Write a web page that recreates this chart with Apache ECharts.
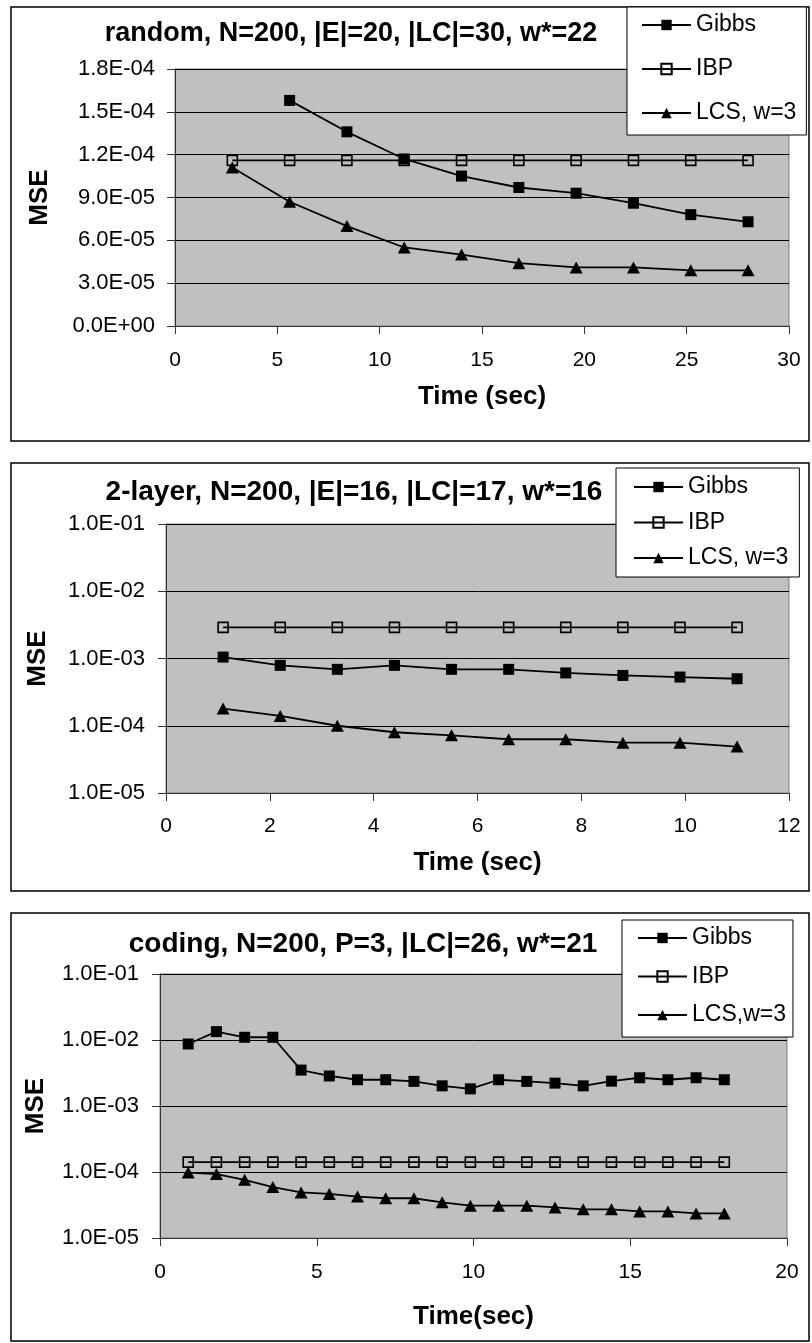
<!DOCTYPE html>
<html>
<head>
<meta charset="utf-8">
<script src="https://cdn.jsdelivr.net/npm/echarts@6/dist/echarts.min.js"></script>
<style>
html,body{margin:0;padding:0;background:#fff;}
#c{width:812px;height:1343px;}
</style>
</head>
<body>
<div id="c"></div>
<script>
// ---- Data ----
const c1Title = 'random, N=200, |E|=20, |LC|=30, w*=22';
const c1Time  = [2.8, 5.6, 8.4, 11.2, 14.0, 16.8, 19.6, 22.4, 25.2, 28.0];
const c1Gibbs = [null, 1.58e-4, 1.36e-4, 1.17e-4, 1.05e-4, 9.7e-5, 9.3e-5, 8.6e-5, 7.8e-5, 7.3e-5];
const c1IBP   = [1.16e-4, 1.16e-4, 1.16e-4, 1.16e-4, 1.16e-4, 1.16e-4, 1.16e-4, 1.16e-4, 1.16e-4, 1.16e-4];
const c1LCS   = [1.11e-4, 8.7e-5, 7.0e-5, 5.5e-5, 5.0e-5, 4.4e-5, 4.1e-5, 4.1e-5, 3.9e-5, 3.9e-5];

const c2Title = '2-layer, N=200, |E|=16, |LC|=17, w*=16';
const c2Time  = [1.1, 2.2, 3.3, 4.4, 5.5, 6.6, 7.7, 8.8, 9.9, 11.0];
const c2Gibbs = [1.05e-3, 7.9e-4, 6.9e-4, 7.9e-4, 6.9e-4, 6.9e-4, 6.1e-4, 5.6e-4, 5.3e-4, 5.0e-4];
const c2IBP   = [2.9e-3, 2.9e-3, 2.9e-3, 2.9e-3, 2.9e-3, 2.9e-3, 2.9e-3, 2.9e-3, 2.9e-3, 2.9e-3];
const c2LCS   = [1.8e-4, 1.4e-4, 1.0e-4, 8.0e-5, 7.2e-5, 6.3e-5, 6.3e-5, 5.6e-5, 5.6e-5, 4.9e-5];

const c3Title = 'coding, N=200, P=3, |LC|=26, w*=21';
const c3Time  = [0.9, 1.8, 2.7, 3.6, 4.5, 5.4, 6.3, 7.2, 8.1, 9.0, 9.9, 10.8, 11.7, 12.6, 13.5, 14.4, 15.3, 16.2, 17.1, 18.0];
const c3Gibbs = [8.7e-3, 1.34e-2, 1.1e-2, 1.1e-2, 3.5e-3, 2.85e-3, 2.5e-3, 2.5e-3, 2.36e-3, 2.02e-3, 1.82e-3, 2.5e-3, 2.36e-3, 2.22e-3, 2.02e-3, 2.38e-3, 2.68e-3, 2.5e-3, 2.68e-3, 2.5e-3];
const c3IBP   = [1.41e-4, 1.41e-4, 1.41e-4, 1.41e-4, 1.41e-4, 1.41e-4, 1.41e-4, 1.41e-4, 1.41e-4, 1.41e-4, 1.41e-4, 1.41e-4, 1.41e-4, 1.41e-4, 1.41e-4, 1.41e-4, 1.41e-4, 1.41e-4, 1.41e-4, 1.41e-4];
const c3LCS   = [9.8e-5, 9.3e-5, 7.6e-5, 5.9e-5, 4.9e-5, 4.66e-5, 4.25e-5, 4.0e-5, 4.0e-5, 3.47e-5, 3.09e-5, 3.09e-5, 3.09e-5, 2.91e-5, 2.72e-5, 2.72e-5, 2.53e-5, 2.53e-5, 2.36e-5, 2.36e-5];

const seriesNames12 = ['Gibbs', 'IBP', 'LCS, w=3'];
const seriesNames3  = ['Gibbs', 'IBP', 'LCS,w=3'];
const xAxisNames = ['Time (sec)', 'Time (sec)', 'Time(sec)'];
const yAxisName = 'MSE';
const xTicks1 = {min: 0, max: 30, interval: 5};
const xTicks2 = {min: 0, max: 12, interval: 2};
const xTicks3 = {min: 0, max: 20, interval: 5};
const yTicks1 = {min: 0, max: 1.8e-4, interval: 3e-5};
const yLogRange = {min: 1e-5, max: 1e-1};

// ---- Styling / layout ----
const FONT = '"Liberation Sans", Arial, sans-serif';
function expFmt(v) {
  const s = Number(v).toExponential(1);
  const parts = s.split('e');
  const sign = parts[1][0];
  let d = parts[1].slice(1);
  if (d.length < 2) d = '0' + d;
  return parts[0] + 'E' + sign + d;
}
function zip(xs, ys) {
  const out = [];
  for (let i = 0; i < xs.length; i++) if (ys[i] !== null && ys[i] !== undefined) out.push([xs[i], ys[i]]);
  return out;
}
const styles = [
  {symbol: 'rect', symbolSize: 11, itemStyle: {color: '#000'}},
  {symbol: 'rect', symbolSize: 10, itemStyle: {color: 'rgba(0,0,0,0)', borderColor: '#000', borderWidth: 1.6}},
  {symbol: 'triangle', symbolSize: [13, 12], itemStyle: {color: '#000'}}
];
function mkSeries(gi, names, xs, ysList) {
  return ysList.map((ys, k) => ({
    type: 'line', name: names[k], xAxisIndex: gi, yAxisIndex: gi,
    data: zip(xs, ys), symbol: styles[k].symbol, symbolSize: styles[k].symbolSize,
    itemStyle: styles[k].itemStyle, lineStyle: {color: '#000', width: 1.8},
    showAllSymbol: true, animation: false, z: 3 + (k === 1 ? 0 : 1)
  }));
}

const grids = [
  {left: 175, top: 69, width: 614, height: 257},
  {left: 166, top: 524, width: 623, height: 269},
  {left: 160, top: 974, width: 627, height: 264}
].map(g => Object.assign(g, {show: true, backgroundColor: '#c0c0c0', borderColor: '#808080', borderWidth: 1}));

function mkX(gi, t, name, nameGap, labelMargin) {
  return {
    type: 'value', gridIndex: gi, min: t.min, max: t.max, interval: t.interval,
    name: name, nameLocation: 'middle', nameGap: nameGap,
    nameTextStyle: {fontFamily: FONT, fontSize: 26, fontWeight: 'bold', color: '#000'},
    axisLine: {show: true, onZero: false, lineStyle: {color: '#333', width: 1}},
    axisTick: {show: true, length: 8, lineStyle: {color: '#333'}},
    axisLabel: {fontFamily: FONT, fontSize: 21, color: '#000', margin: labelMargin},
    splitLine: {show: false}
  };
}
function mkY(gi, isLog, nameGap, labelMargin) {
  const base = {
    gridIndex: gi,
    name: yAxisName, nameLocation: 'middle', nameGap: nameGap, nameRotate: 90,
    nameTextStyle: {fontFamily: FONT, fontSize: 26, fontWeight: 'bold', color: '#000'},
    axisLine: {show: true, onZero: false, lineStyle: {color: '#333', width: 1}},
    axisTick: {show: true, length: 8, lineStyle: {color: '#333'}},
    axisLabel: {fontFamily: FONT, fontSize: 22, color: '#000', margin: labelMargin, formatter: expFmt},
    splitLine: {show: true, lineStyle: {color: '#000', width: 1}},
    minorTick: {show: false}, minorSplitLine: {show: false}
  };
  if (isLog) return Object.assign(base, {type: 'log', logBase: 10, min: yLogRange.min, max: yLogRange.max});
  return Object.assign(base, {type: 'value', min: yTicks1.min, max: yTicks1.max, interval: yTicks1.interval});
}

function mkLegend(names, left, top, gap, padding) {
  return {
    data: names, orient: 'vertical', left: left, top: top, itemGap: gap,
    itemWidth: 49, itemHeight: 13, padding: padding,
    backgroundColor: '#fff', borderColor: '#000', borderWidth: 1,
    textStyle: {fontFamily: FONT, fontSize: 23, color: '#000', lineHeight: 26},
    selectedMode: false
  };
}

const option = {
  animation: false,
  backgroundColor: '#fff',
  graphic: [
    {type: 'rect', shape: {x: 11, y: 7, width: 798, height: 434}, style: {fill: 'none', stroke: '#000', lineWidth: 1.5}, z: -5},
    {type: 'rect', shape: {x: 11, y: 463, width: 798, height: 428}, style: {fill: 'none', stroke: '#000', lineWidth: 1.5}, z: -5},
    {type: 'rect', shape: {x: 11, y: 913, width: 798, height: 428}, style: {fill: 'none', stroke: '#000', lineWidth: 1.5}, z: -5}
  ],
  title: [
    {text: c1Title, left: 351, top: 20, textAlign: 'center', padding: 0, textStyle: {fontFamily: FONT, fontSize: 27, fontWeight: 'bold', color: '#000'}},
    {text: c2Title, left: 354, top: 478, textAlign: 'center', padding: 0, textStyle: {fontFamily: FONT, fontSize: 28, fontWeight: 'bold', color: '#000'}},
    {text: c3Title, left: 363, top: 930, textAlign: 'center', padding: 0, textStyle: {fontFamily: FONT, fontSize: 28, fontWeight: 'bold', color: '#000'}}
  ],
  legend: [
    mkLegend(seriesNames12, 627, 7, 18, [5, 10, 9, 14]),
    mkLegend(seriesNames12, 616, 468, 9.5, [6, 11, 6, 17]),
    mkLegend(seriesNames3, 622, 920, 12.5, [5, 7, 9, 15])
  ],
  grid: grids,
  xAxis: [
    mkX(0, xTicks1, xAxisNames[0], 58, 24),
    mkX(1, xTicks2, xAxisNames[1], 57, 23),
    mkX(2, xTicks3, xAxisNames[2], 66, 24)
  ],
  yAxis: [
    mkY(0, false, 122, 20),
    mkY(1, true, 115, 21),
    mkY(2, true, 111, 21)
  ],
  series: [].concat(
    mkSeries(0, seriesNames12, c1Time, [c1Gibbs, c1IBP, c1LCS]),
    mkSeries(1, seriesNames12, c2Time, [c2Gibbs, c2IBP, c2LCS]),
    mkSeries(2, seriesNames3, c3Time, [c3Gibbs, c3IBP, c3LCS])
  )
};
const chart = echarts.init(document.getElementById('c'), null, {renderer: 'canvas'});
chart.setOption(option);
</script>
</body>
</html>
